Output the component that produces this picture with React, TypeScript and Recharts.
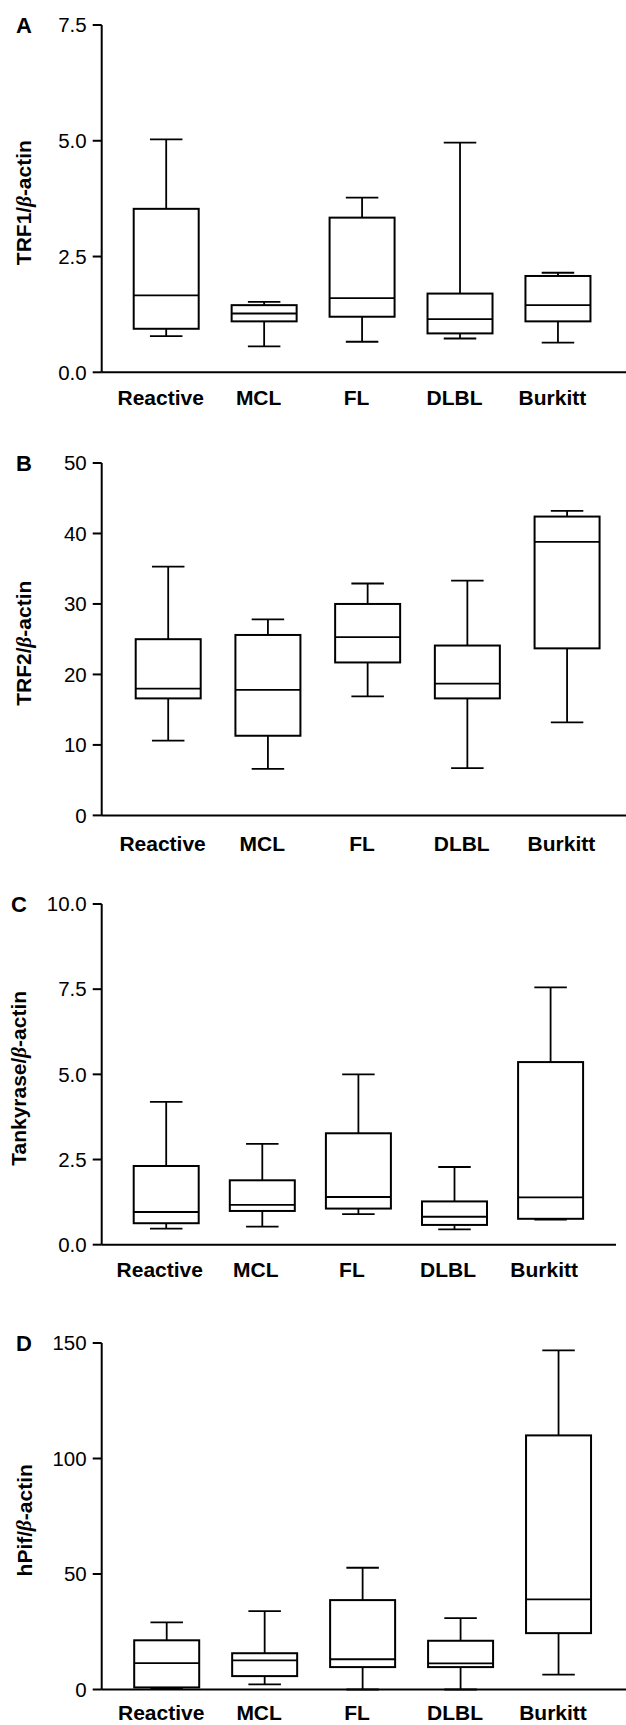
import React from "react";
import { Bar, BarChart, XAxis, YAxis } from "recharts";

const categories = ["Reactive", "MCL", "FL", "DLBL", "Burkitt"];

// A: TRF1
const trf1Min = [0.78, 0.56, 0.66, 0.73, 0.64];
const trf1Q1 = [0.94, 1.1, 1.2, 0.84, 1.1];
const trf1Median = [1.66, 1.27, 1.6, 1.15, 1.45];
const trf1Q3 = [3.53, 1.45, 3.34, 1.7, 2.08];
const trf1Max = [5.03, 1.52, 3.77, 4.96, 2.15];
const trf1Ticks = [0, 2.5, 5, 7.5];

// B: TRF2
const trf2Min = [10.6, 6.6, 16.9, 6.7, 13.2];
const trf2Q1 = [16.6, 11.3, 21.7, 16.6, 23.7];
const trf2Median = [18.0, 17.8, 25.3, 18.7, 38.8];
const trf2Q3 = [25.0, 25.6, 30.0, 24.1, 42.4];
const trf2Max = [35.3, 27.8, 32.9, 33.3, 43.2];
const trf2Ticks = [0, 10, 20, 30, 40, 50];

// C: Tankyrase
const tankMin = [0.47, 0.53, 0.9, 0.45, 0.74];
const tankQ1 = [0.63, 0.99, 1.06, 0.58, 0.76];
const tankMedian = [0.96, 1.17, 1.4, 0.82, 1.39];
const tankQ3 = [2.31, 1.89, 3.27, 1.27, 5.36];
const tankMax = [4.19, 2.96, 5.0, 2.28, 7.55];
const tankTicks = [0, 2.5, 5, 7.5, 10];

// D: hPif
const hpifMin = [0.3, 2.2, 0, 0, 6.4];
const hpifQ1 = [0.9, 5.8, 9.7, 9.7, 24.4];
const hpifMedian = [11.4, 12.6, 13.1, 11.3, 39.0];
const hpifQ3 = [21.3, 15.7, 38.7, 21.1, 110.0];
const hpifMax = [29.1, 33.9, 52.7, 30.9, 146.8];
const hpifTicks = [0, 50, 100, 150];

const FONT = "'Liberation Sans', Arial, Helvetica, sans-serif";

function buildRows(min: number[], q1: number[], med: number[], q3: number[], max: number[]) {
  return categories.map((name, i) => ({
    name,
    range: [min[i], max[i]],
    min: min[i],
    q1: q1[i],
    median: med[i],
    q3: q3[i],
    max: max[i],
  }));
}

const panels = [
  {
    letter: "A",
    title: "TRF1/",
    rows: buildRows(trf1Min, trf1Q1, trf1Median, trf1Q3, trf1Max),
    ticks: trf1Ticks,
    decimals: 1,
    top: 25,
    zero: 372.3,
    right: 626,
    padL: 16,
    padR: 18.6,
    labelGap: 18,
    letterX: 16,
    titleX: 24,
    xHeight: 45,
  },
  {
    letter: "B",
    title: "TRF2/",
    rows: buildRows(trf2Min, trf2Q1, trf2Median, trf2Q3, trf2Max),
    ticks: trf2Ticks,
    decimals: 0,
    top: 463.3,
    zero: 815.7,
    right: 626,
    padL: 17,
    padR: 8.7,
    labelGap: 21,
    letterX: 16,
    titleX: 24,
    xHeight: 45,
  },
  {
    letter: "C",
    title: "Tankyrase/",
    rows: buildRows(tankMin, tankQ1, tankMedian, tankQ3, tankMax),
    ticks: tankTicks,
    decimals: 1,
    top: 904.3,
    zero: 1245,
    right: 616,
    padL: 16,
    padR: 17.8,
    labelGap: 17,
    letterX: 11,
    titleX: 18.5,
    xHeight: 45,
  },
  {
    letter: "D",
    title: "hPif/",
    rows: buildRows(hpifMin, hpifQ1, hpifMedian, hpifQ3, hpifMax),
    ticks: hpifTicks,
    decimals: 0,
    top: 1342.5,
    zero: 1689,
    right: 626,
    padL: 16.5,
    padR: 18,
    labelGap: 16,
    letterX: 16,
    titleX: 24,
    xHeight: 36,
  },
];

const MARGIN_TOP = 20;

// box + whiskers drawn from the [min, max] range bar the library lays out
function BoxShape(props: any) {
  const { x, y, width, height, payload } = props;
  if (!payload) return null;
  const top = Math.min(y, y + height);
  const bottom = Math.max(y, y + height);
  const span = payload.max - payload.min;
  const k = span > 0 ? (bottom - top) / span : 0;
  const toY = (v: number) => bottom - (v - payload.min) * k;
  const cx = x + width / 2;
  const cap = width / 4;
  const yMax = toY(payload.max);
  const yQ3 = toY(payload.q3);
  const yMed = toY(payload.median);
  const yQ1 = toY(payload.q1);
  const yMin = toY(payload.min);
  return (
    <g stroke="#000" fill="none">
      <line x1={cx} x2={cx} y1={yMax} y2={yQ3} strokeWidth={1.8} />
      <line x1={cx} x2={cx} y1={yQ1} y2={yMin} strokeWidth={1.8} />
      <line x1={cx - cap} x2={cx + cap} y1={yMax} y2={yMax} strokeWidth={1.8} />
      <line x1={cx - cap} x2={cx + cap} y1={yMin} y2={yMin} strokeWidth={1.8} />
      <rect x={x} y={yQ3} width={width} height={yQ1 - yQ3} fill="#fff" strokeWidth={2} />
      <line x1={x} x2={x + width} y1={yMed} y2={yMed} strokeWidth={1.8} />
    </g>
  );
}

function PanelTitle({ letter, title, letterX, titleX, plotH }: any) {
  const cy = MARGIN_TOP + plotH / 2 + 4;
  return (
    <g fill="#000" style={{ fontFamily: FONT }}>
      <text x={letterX} y={MARGIN_TOP + 7.8} fontSize={22} fontWeight={700}>
        {letter}
      </text>
      <text
        x={titleX}
        y={cy}
        transform={`rotate(-90 ${titleX} ${cy})`}
        textAnchor="middle"
        dominantBaseline="central"
        fontSize={21}
        fontWeight={700}
      >
        {title}
        <tspan fontStyle="italic" fontFamily="'Liberation Serif', serif">
          β
        </tspan>
        -actin
      </text>
    </g>
  );
}

function Panel({ p }: any) {
  const plotH = p.zero - p.top;
  const height = plotH + MARGIN_TOP + p.xHeight;
  const ymax = p.ticks[p.ticks.length - 1];
  return (
    <div style={{ position: "absolute", left: 0, top: p.top - MARGIN_TOP }}>
      <BarChart
        width={p.right}
        height={height}
        data={p.rows}
        margin={{ top: MARGIN_TOP, right: 0, left: 0, bottom: 0 }}
        style={{ fontFamily: FONT }}
      >
        <XAxis
          dataKey="name"
          height={p.xHeight}
          padding={{ left: p.padL, right: p.padR }}
          axisLine={{ stroke: "#000", strokeWidth: 2 }}
          tickLine={false}
          tickSize={0}
          tickMargin={p.labelGap}
          interval={0}
          tick={{ fontSize: 21, fontWeight: 700, fill: "#000", dx: -6 }}
        />
        <YAxis
          type="number"
          width={101.7}
          domain={[0, ymax]}
          ticks={p.ticks}
          interval={0}
          tickSize={9}
          tickMargin={6}
          axisLine={{ stroke: "#000", strokeWidth: 2 }}
          tickLine={{ stroke: "#000", strokeWidth: 2 }}
          tick={{ fontSize: 20.5, fill: "#000" }}
          tickFormatter={(v: number) => v.toFixed(p.decimals)}
          label={
            <PanelTitle
              letter={p.letter}
              title={p.title}
              letterX={p.letterX}
              titleX={p.titleX}
              plotH={plotH}
            />
          }
        />
        <Bar dataKey="range" barSize={65} shape={BoxShape} isAnimationActive={false} />
      </BarChart>
    </div>
  );
}

export default function App() {
  return (
    <div
      style={{
        position: "absolute",
        left: 0,
        top: 0,
        width: 626,
        height: 1725,
        overflow: "hidden",
        background: "#fff",
        fontFamily: FONT,
      }}
    >
      {panels.map((p) => (
        <Panel key={p.letter} p={p} />
      ))}
    </div>
  );
}
